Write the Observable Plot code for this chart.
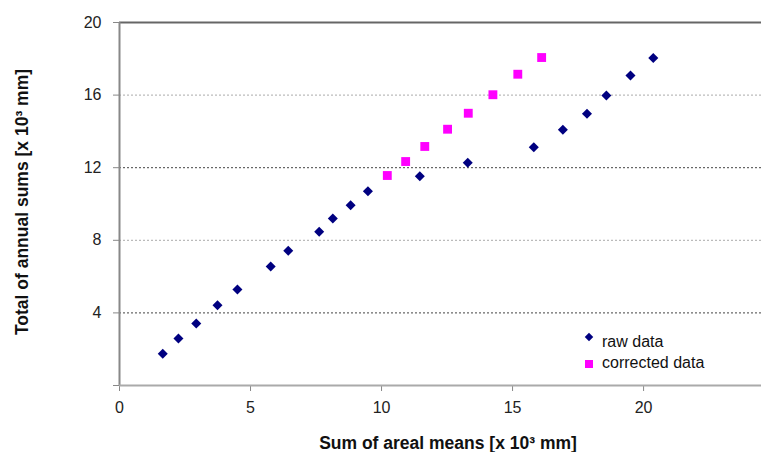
<!DOCTYPE html>
<html>
<head>
<meta charset="utf-8">
<script src="https://cdn.jsdelivr.net/npm/d3@7"></script>
<script src="https://cdn.jsdelivr.net/npm/@observablehq/plot@0.6"></script>
<style>
  html, body { margin: 0; padding: 0; background: #fff; }
  #wrap { position: relative; width: 761px; height: 452px; font-family: "Liberation Sans", Arial, sans-serif; color: #222; }
  #wrap svg { position: absolute; left: 0; top: 0; }
  #wrap svg .tick line { stroke: #888; }
  #wrap svg g[aria-label$="tick"] path { stroke: #888; }
  .title { position: absolute; font-weight: bold; font-size: 17.5px; white-space: nowrap; color: #111; }
  #xtitle { left: 448px; top: 443px; transform: translate(-50%, -50%); }
  #ytitle { left: 22px; top: 202px; transform: translate(-50%, -50%) rotate(-90deg); }
  #legend { position: absolute; left: 582px; top: 331px; font-size: 16px; color: #111; }
  .lrow { position: relative; height: 21px; line-height: 21px; padding-left: 20px; }
  .sym { position: absolute; }
  .dia { left: 4px; top: 3px; width: 6px; height: 6px; background: #000080; transform: rotate(45deg); }
  .sq { left: 3px; top: 8px; width: 8px; height: 8px; background: #ff00ff; }
</style>
</head>
<body>
<div id="wrap">
  <div id="chart"></div>
  <div id="xtitle" class="title">Sum of areal means [x 10³ mm]</div>
  <div id="ytitle" class="title">Total of annual sums [x 10³ mm]</div>
  <div id="legend">
    <div class="lrow"><span class="sym dia"></span>raw data</div>
    <div class="lrow"><span class="sym sq"></span>corrected data</div>
  </div>
</div>
<script>
const rawX = [1.65, 2.25, 2.93, 3.74, 4.50, 5.77, 6.44, 7.62, 8.14, 8.82, 9.48, 11.46, 13.29, 15.81, 16.92, 17.84, 18.58, 19.50, 20.37];
const rawY = [1.75, 2.59, 3.42, 4.42, 5.29, 6.56, 7.42, 8.47, 9.20, 9.93, 10.70, 11.53, 12.27, 13.13, 14.09, 14.97, 15.98, 17.08, 18.05];
const corrX = [10.22, 10.92, 11.65, 12.52, 13.31, 14.25, 15.20, 16.11];
const corrY = [11.57, 12.34, 13.17, 14.12, 15.00, 16.02, 17.15, 18.07];
const xTicks = [0, 5, 10, 15, 20];
const yTicks = [0, 4, 8, 12, 16, 20];
const gridDark = [4, 12];
const gridLight = [8, 16];

const raw = rawX.map((x, i) => ({x, y: rawY[i]}));
const corr = corrX.map((x, i) => ({x, y: corrY[i]}));

const chart = Plot.plot({
  width: 761,
  height: 452,
  marginLeft: 119,
  marginRight: 0,
  marginTop: 22,
  marginBottom: 67,
  style: { fontFamily: '"Liberation Sans", Arial, sans-serif', fontSize: "16px", color: "#222", background: "transparent" },
  x: { domain: [0, 24.5], ticks: xTicks, tickSize: 6, tickPadding: 10, label: null },
  y: { domain: [0, 20], ticks: yTicks, tickSize: 6, tickPadding: 12, tickFormat: d => d === 0 ? "" : String(d), label: null },
  marks: [
    Plot.ruleY(gridLight, { stroke: "#aaa", strokeDasharray: "2,2" }),
    Plot.ruleY(gridDark, { stroke: "#444", strokeDasharray: "2,2" }),
    Plot.ruleY([20], { stroke: "#666", strokeWidth: 2 }),
    Plot.ruleX([0], { stroke: "#888", strokeWidth: 2 }),
    Plot.ruleY([0], { stroke: "#aaa", strokeWidth: 2 }),
    Plot.dot(raw, { x: "x", y: "y", symbol: "square", r: 4, rotate: 45, fill: "#000080", stroke: "none" }),
    Plot.dot(corr, { x: "x", y: "y", symbol: "square", r: 5, fill: "#ff00ff", stroke: "none" })
  ]
});
document.getElementById("chart").appendChild(chart);
</script>
</body>
</html>
